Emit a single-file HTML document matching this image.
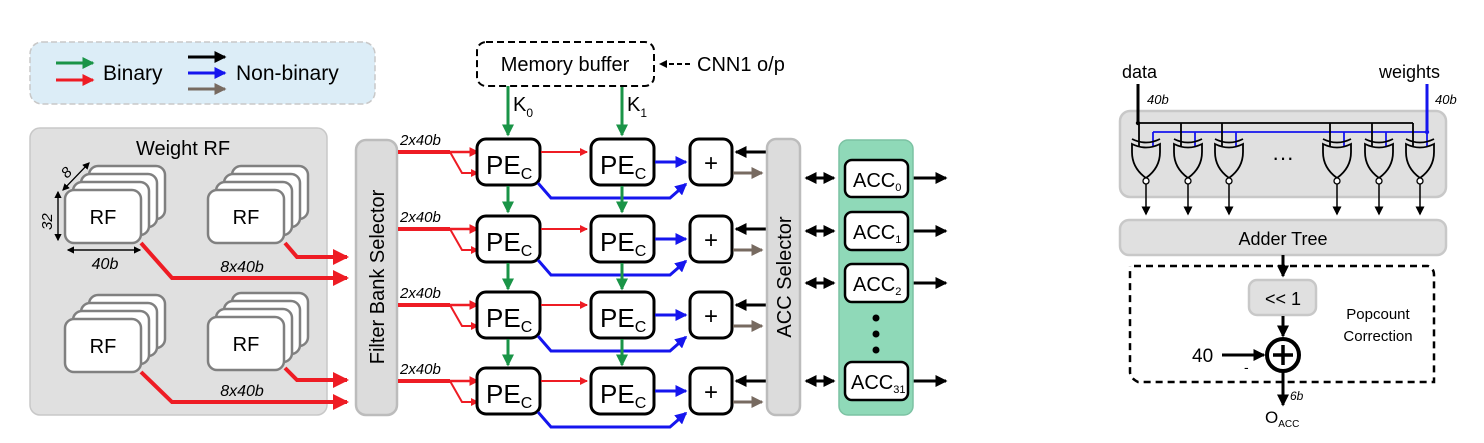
<!DOCTYPE html>
<html><head><meta charset="utf-8"><style>
html,body{margin:0;padding:0;background:#fff;}
svg{display:block;font-family:"Liberation Sans",sans-serif;}
</style></head><body>
<svg width="1484" height="443" viewBox="0 0 1484 443" xmlns="http://www.w3.org/2000/svg">
<defs>
<marker id="ag" markerWidth="4" markerHeight="4" refX="3.5" refY="2" orient="auto" markerUnits="strokeWidth"><path d="M0,0 L4,2 L0,4 Z" fill="#1a9447"/></marker>
<marker id="ar" markerWidth="4" markerHeight="4" refX="3.5" refY="2" orient="auto" markerUnits="strokeWidth"><path d="M0,0 L4,2 L0,4 Z" fill="#ee1c24"/></marker>
<marker id="ab" markerWidth="4" markerHeight="4" refX="3.5" refY="2" orient="auto" markerUnits="strokeWidth"><path d="M0,0 L4,2 L0,4 Z" fill="#1515ee"/></marker>
<marker id="ak" markerWidth="4" markerHeight="4" refX="3.5" refY="2" orient="auto" markerUnits="strokeWidth"><path d="M0,0 L4,2 L0,4 Z" fill="#000"/></marker>
<marker id="an" markerWidth="4" markerHeight="4" refX="3.5" refY="2" orient="auto" markerUnits="strokeWidth"><path d="M0,0 L4,2 L0,4 Z" fill="#776a60"/></marker>
<marker id="ak2" markerWidth="6" markerHeight="6" refX="5" refY="3" orient="auto" markerUnits="strokeWidth"><path d="M0,0 L6,3 L0,6 Z" fill="#000"/></marker>
</defs>

<!-- Legend -->
<rect x="30" y="42" width="345" height="62" rx="12" fill="#dcedf7" stroke="#c8c8c8" stroke-width="1.5" stroke-dasharray="6,3"/>
<line x1="56" y1="63" x2="93" y2="63" stroke="#1a9447" stroke-width="3" marker-end="url(#ag)"/>
<line x1="56" y1="80" x2="93" y2="80" stroke="#ee1c24" stroke-width="3" marker-end="url(#ar)"/>
<text x="103" y="80" font-size="21">Binary</text>
<line x1="188" y1="57" x2="225" y2="57" stroke="#000" stroke-width="3" marker-end="url(#ak)"/>
<line x1="188" y1="73" x2="225" y2="73" stroke="#1515ee" stroke-width="3" marker-end="url(#ab)"/>
<line x1="188" y1="89" x2="225" y2="89" stroke="#776a60" stroke-width="3" marker-end="url(#an)"/>
<text x="236" y="80" font-size="21">Non-binary</text>

<!-- Weight RF -->
<rect x="30" y="128" width="297" height="287" rx="10" fill="#e0e0e0" stroke="#c8c8c8" stroke-width="1.5"/>
<text x="183" y="155" font-size="20" text-anchor="middle">Weight RF</text>
<g stroke="#808080" stroke-width="2.5" fill="#fff">
<g id="rf1">
<rect x="89" y="166" width="76" height="53" rx="9"/>
<rect x="81" y="174" width="76" height="53" rx="9"/>
<rect x="73" y="182" width="76" height="53" rx="9"/>
<rect x="65" y="190" width="76" height="53" rx="9"/>
</g>
<use href="#rf1" x="143" y="0"/>
<use href="#rf1" x="0" y="129"/>
<use href="#rf1" x="143" y="127"/>
</g>
<g font-size="20" text-anchor="middle">
<text x="103" y="224">RF</text><text x="246" y="224">RF</text>
<text x="103" y="353">RF</text><text x="246" y="351">RF</text>
</g>
<line x1="63" y1="190" x2="89" y2="163" stroke="#000" stroke-width="1.2" marker-end="url(#ak2)"/>
<line x1="89" y1="163" x2="63" y2="190" stroke="#000" stroke-width="1.2" marker-end="url(#ak2)"/>
<text font-size="15" font-style="italic" transform="translate(67,179) rotate(-45)">8</text>
<line x1="58" y1="192" x2="58" y2="240" stroke="#000" stroke-width="1.2" marker-end="url(#ak2)"/>
<line x1="58" y1="240" x2="58" y2="192" stroke="#000" stroke-width="1.2" marker-end="url(#ak2)"/>
<text font-size="15" font-style="italic" transform="translate(52,230) rotate(-90)">32</text>
<line x1="68" y1="250" x2="140" y2="250" stroke="#000" stroke-width="1.2" marker-end="url(#ak2)"/>
<line x1="140" y1="250" x2="68" y2="250" stroke="#000" stroke-width="1.2" marker-end="url(#ak2)"/>
<text x="105" y="269" font-size="16" font-style="italic" text-anchor="middle">40b</text>

<g stroke="#ee1c24" stroke-width="4" fill="none">
<polyline points="141,243 172,278 347,278" marker-end="url(#ar)"/>
<polyline points="285,243 297,257 347,257" marker-end="url(#ar)"/>
<polyline points="141,372 172,402 347,402" marker-end="url(#ar)"/>
<polyline points="285,368 297,380 347,380" marker-end="url(#ar)"/>
</g>
<text x="242" y="272" font-size="16" font-style="italic" text-anchor="middle">8x40b</text>
<text x="242" y="396" font-size="16" font-style="italic" text-anchor="middle">8x40b</text>

<!-- Filter Bank Selector -->
<rect x="356" y="140" width="41" height="275" rx="10" fill="#dcdcdc" stroke="#bcbcbc" stroke-width="2.5"/>
<text font-size="20" text-anchor="middle" transform="translate(384,277) rotate(-90)">Filter Bank Selector</text>

<!-- PE rows -->
<g id="row">
<polyline points="398,152 478,152" stroke="#ee1c24" stroke-width="2.5" fill="none" marker-end="url(#ar)"/>
<polyline points="450,152 462,173 478,173" stroke="#ee1c24" stroke-width="2" fill="none" marker-end="url(#ar)"/>
<line x1="398" y1="152" x2="450" y2="152" stroke="#ee1c24" stroke-width="4"/>
<text x="400" y="145" font-size="15" font-style="italic">2x40b</text>
<rect x="477" y="139" width="63" height="46" rx="9" fill="#fff" stroke="#000" stroke-width="3"/>
<rect x="591" y="139" width="63" height="46" rx="9" fill="#fff" stroke="#000" stroke-width="3"/>
<text x="486" y="174" font-size="26">PE<tspan font-size="16" dy="5">C</tspan></text>
<text x="600" y="174" font-size="26">PE<tspan font-size="16" dy="5">C</tspan></text>
<line x1="541" y1="152" x2="587" y2="152" stroke="#ee1c24" stroke-width="2" marker-end="url(#ar)"/>
<line x1="655" y1="162" x2="686" y2="162" stroke="#1515ee" stroke-width="3" marker-end="url(#ab)"/>
<polyline points="538,183 551,198 670,198 686,184" stroke="#1515ee" stroke-width="3" fill="none" marker-end="url(#ab)"/>
<rect x="690" y="139" width="42" height="46" rx="9" fill="#fff" stroke="#000" stroke-width="3"/>
<text x="711" y="171" font-size="24" text-anchor="middle">+</text>
<line x1="766" y1="152" x2="736" y2="152" stroke="#000" stroke-width="3" marker-end="url(#ak)"/>
<line x1="733" y1="173" x2="762" y2="173" stroke="#776a60" stroke-width="3" marker-end="url(#an)"/>
</g>
<use href="#row" y="77"/>
<use href="#row" y="153"/>
<use href="#row" y="229"/>

<!-- green vertical -->
<g stroke="#1a9447" stroke-width="3" fill="none">
<line x1="508" y1="86" x2="508" y2="135" marker-end="url(#ag)"/>
<line x1="622" y1="86" x2="622" y2="135" marker-end="url(#ag)"/>
<line x1="508" y1="186" x2="508" y2="212" marker-end="url(#ag)"/>
<line x1="622" y1="186" x2="622" y2="212" marker-end="url(#ag)"/>
<line x1="508" y1="263" x2="508" y2="289" marker-end="url(#ag)"/>
<line x1="622" y1="263" x2="622" y2="289" marker-end="url(#ag)"/>
<line x1="508" y1="339" x2="508" y2="365" marker-end="url(#ag)"/>
<line x1="622" y1="339" x2="622" y2="365" marker-end="url(#ag)"/>
</g>
<text x="513" y="111" font-size="20">K<tspan font-size="12" dy="6">0</tspan></text>
<text x="627" y="111" font-size="20">K<tspan font-size="12" dy="6">1</tspan></text>

<!-- Memory buffer -->
<rect x="477" y="42" width="177" height="44" rx="9" fill="#fff" stroke="#000" stroke-width="2" stroke-dasharray="7,4"/>
<text x="565" y="71" font-size="20" text-anchor="middle">Memory buffer</text>
<line x1="690" y1="64" x2="660" y2="64" stroke="#000" stroke-width="2" stroke-dasharray="5,3" marker-end="url(#ak)"/>
<text x="697" y="71" font-size="20">CNN1 o/p</text>

<!-- ACC selector -->
<rect x="767" y="139" width="33" height="276" rx="9" fill="#dcdcdc" stroke="#bcbcbc" stroke-width="2.5"/>
<text font-size="20" text-anchor="middle" transform="translate(791,277) rotate(-90)">ACC Selector</text>
<g stroke="#000" stroke-width="3">
<line x1="806" y1="178" x2="834" y2="178" marker-end="url(#ak)"/><line x1="834" y1="178" x2="806" y2="178" marker-end="url(#ak)"/>
<line x1="806" y1="231" x2="834" y2="231" marker-end="url(#ak)"/><line x1="834" y1="231" x2="806" y2="231" marker-end="url(#ak)"/>
<line x1="806" y1="283" x2="834" y2="283" marker-end="url(#ak)"/><line x1="834" y1="283" x2="806" y2="283" marker-end="url(#ak)"/>
<line x1="806" y1="381" x2="834" y2="381" marker-end="url(#ak)"/><line x1="834" y1="381" x2="806" y2="381" marker-end="url(#ak)"/>
<line x1="913" y1="178" x2="946" y2="178" marker-end="url(#ak)"/>
<line x1="913" y1="231" x2="946" y2="231" marker-end="url(#ak)"/>
<line x1="913" y1="283" x2="946" y2="283" marker-end="url(#ak)"/>
<line x1="913" y1="381" x2="946" y2="381" marker-end="url(#ak)"/>
</g>
<rect x="839" y="140" width="74" height="275" rx="9" fill="#8fd9b8" stroke="#7cc2a3" stroke-width="1.5"/>
<g fill="#fff" stroke="#000" stroke-width="2.5">
<rect x="845" y="160" width="63" height="37" rx="7"/>
<rect x="845" y="212" width="63" height="38" rx="7"/>
<rect x="845" y="264" width="63" height="38" rx="7"/>
<rect x="845" y="362" width="63" height="38" rx="7"/>
</g>
<g font-size="20">
<text x="853" y="187">ACC<tspan font-size="11" dy="4">0</tspan></text>
<text x="853" y="239">ACC<tspan font-size="11" dy="4">1</tspan></text>
<text x="853" y="291">ACC<tspan font-size="11" dy="4">2</tspan></text>
<text x="851" y="389">ACC<tspan font-size="11" dy="4">31</tspan></text>
</g>
<circle cx="876" cy="318" r="3.5"/><circle cx="876" cy="334" r="3.5"/><circle cx="876" cy="350" r="3.5"/>

<!-- Right: XNOR array -->
<text x="1122" y="78" font-size="18">data</text>
<text x="1379" y="78" font-size="18">weights</text>
<rect x="1120" y="111" width="326" height="86" rx="10" fill="#e0e0e0" stroke="#c8c8c8" stroke-width="2.5"/>
<line x1="1138" y1="84" x2="1138" y2="124" stroke="#000" stroke-width="3"/>
<line x1="1427" y1="84" x2="1427" y2="133" stroke="#1515ee" stroke-width="3"/>
<text x="1147" y="104" font-size="13" font-style="italic">40b</text>
<text x="1435" y="104" font-size="13" font-style="italic">40b</text>
<line x1="1138" y1="123" x2="1413" y2="123" stroke="#000" stroke-width="1.8"/>
<circle cx="1138" cy="123" r="2.2"/>
<line x1="1153" y1="132" x2="1427" y2="132" stroke="#1515ee" stroke-width="1.8"/>
<circle cx="1427" cy="132" r="2.2" fill="#1515ee"/>
<g id="gate">
<line x1="1139" y1="123" x2="1139" y2="146" stroke="#000" stroke-width="1.8"/>
<line x1="1153" y1="132" x2="1153" y2="146" stroke="#1515ee" stroke-width="1.8"/>
<path d="M1132,139 Q1146,146 1160,139" fill="none" stroke="#000" stroke-width="1.8"/>
<path d="M1132,144 Q1146,151 1160,144 L1160,152 Q1160,168 1146,178 Q1132,168 1132,152 Z" fill="#e0e0e0" stroke="#000" stroke-width="1.8"/>
<circle cx="1146" cy="181" r="3" fill="#fff" stroke="#000" stroke-width="1.3"/>
<line x1="1146" y1="184" x2="1146" y2="214" stroke="#000" stroke-width="1.5" marker-end="url(#ak2)"/>
</g>
<use href="#gate" x="42"/><use href="#gate" x="83"/>
<use href="#gate" x="191"/><use href="#gate" x="233"/><use href="#gate" x="274"/>
<text x="1283" y="165" font-size="22" text-anchor="middle">···</text>
<rect x="1120" y="220" width="326" height="35" rx="9" fill="#e0e0e0" stroke="#c8c8c8" stroke-width="2.5"/>
<text x="1283" y="245" font-size="18" text-anchor="middle">Adder Tree</text>
<path d="M1134,266 L1428,266 Q1434,268 1434,275 L1434,382 L1138,382 Q1130,378 1130,372 L1130,266" fill="none" stroke="#000" stroke-width="2.5" stroke-dasharray="7,5"/>
<line x1="1283" y1="255" x2="1283" y2="276" stroke="#000" stroke-width="3" marker-end="url(#ak)"/>
<rect x="1249" y="280" width="67" height="35" rx="8" fill="#e0e0e0" stroke="#c8c8c8" stroke-width="2.5"/>
<text x="1283" y="305" font-size="18" text-anchor="middle">&lt;&lt; 1</text>
<line x1="1283" y1="316" x2="1283" y2="336" stroke="#000" stroke-width="3" marker-end="url(#ak)"/>
<circle cx="1283" cy="355" r="16" fill="#fff" stroke="#000" stroke-width="4"/>
<line x1="1273" y1="355" x2="1293" y2="355" stroke="#000" stroke-width="3.5"/>
<line x1="1283" y1="345" x2="1283" y2="365" stroke="#000" stroke-width="3.5"/>
<text x="1192" y="362" font-size="19">40</text>
<line x1="1222" y1="355" x2="1264" y2="355" stroke="#000" stroke-width="3" marker-end="url(#ak)"/>
<text x="1244" y="372" font-size="14">-</text>
<text x="1378" y="319" font-size="15" text-anchor="middle">Popcount</text>
<text x="1378" y="341" font-size="15" text-anchor="middle">Correction</text>
<line x1="1283" y1="371" x2="1283" y2="405" stroke="#000" stroke-width="3" marker-end="url(#ak)"/>
<text x="1290" y="400" font-size="12" font-style="italic">6b</text>
<text x="1265" y="423" font-size="17">O<tspan font-size="10" dy="4">ACC</tspan></text>
</svg>
</body></html>
